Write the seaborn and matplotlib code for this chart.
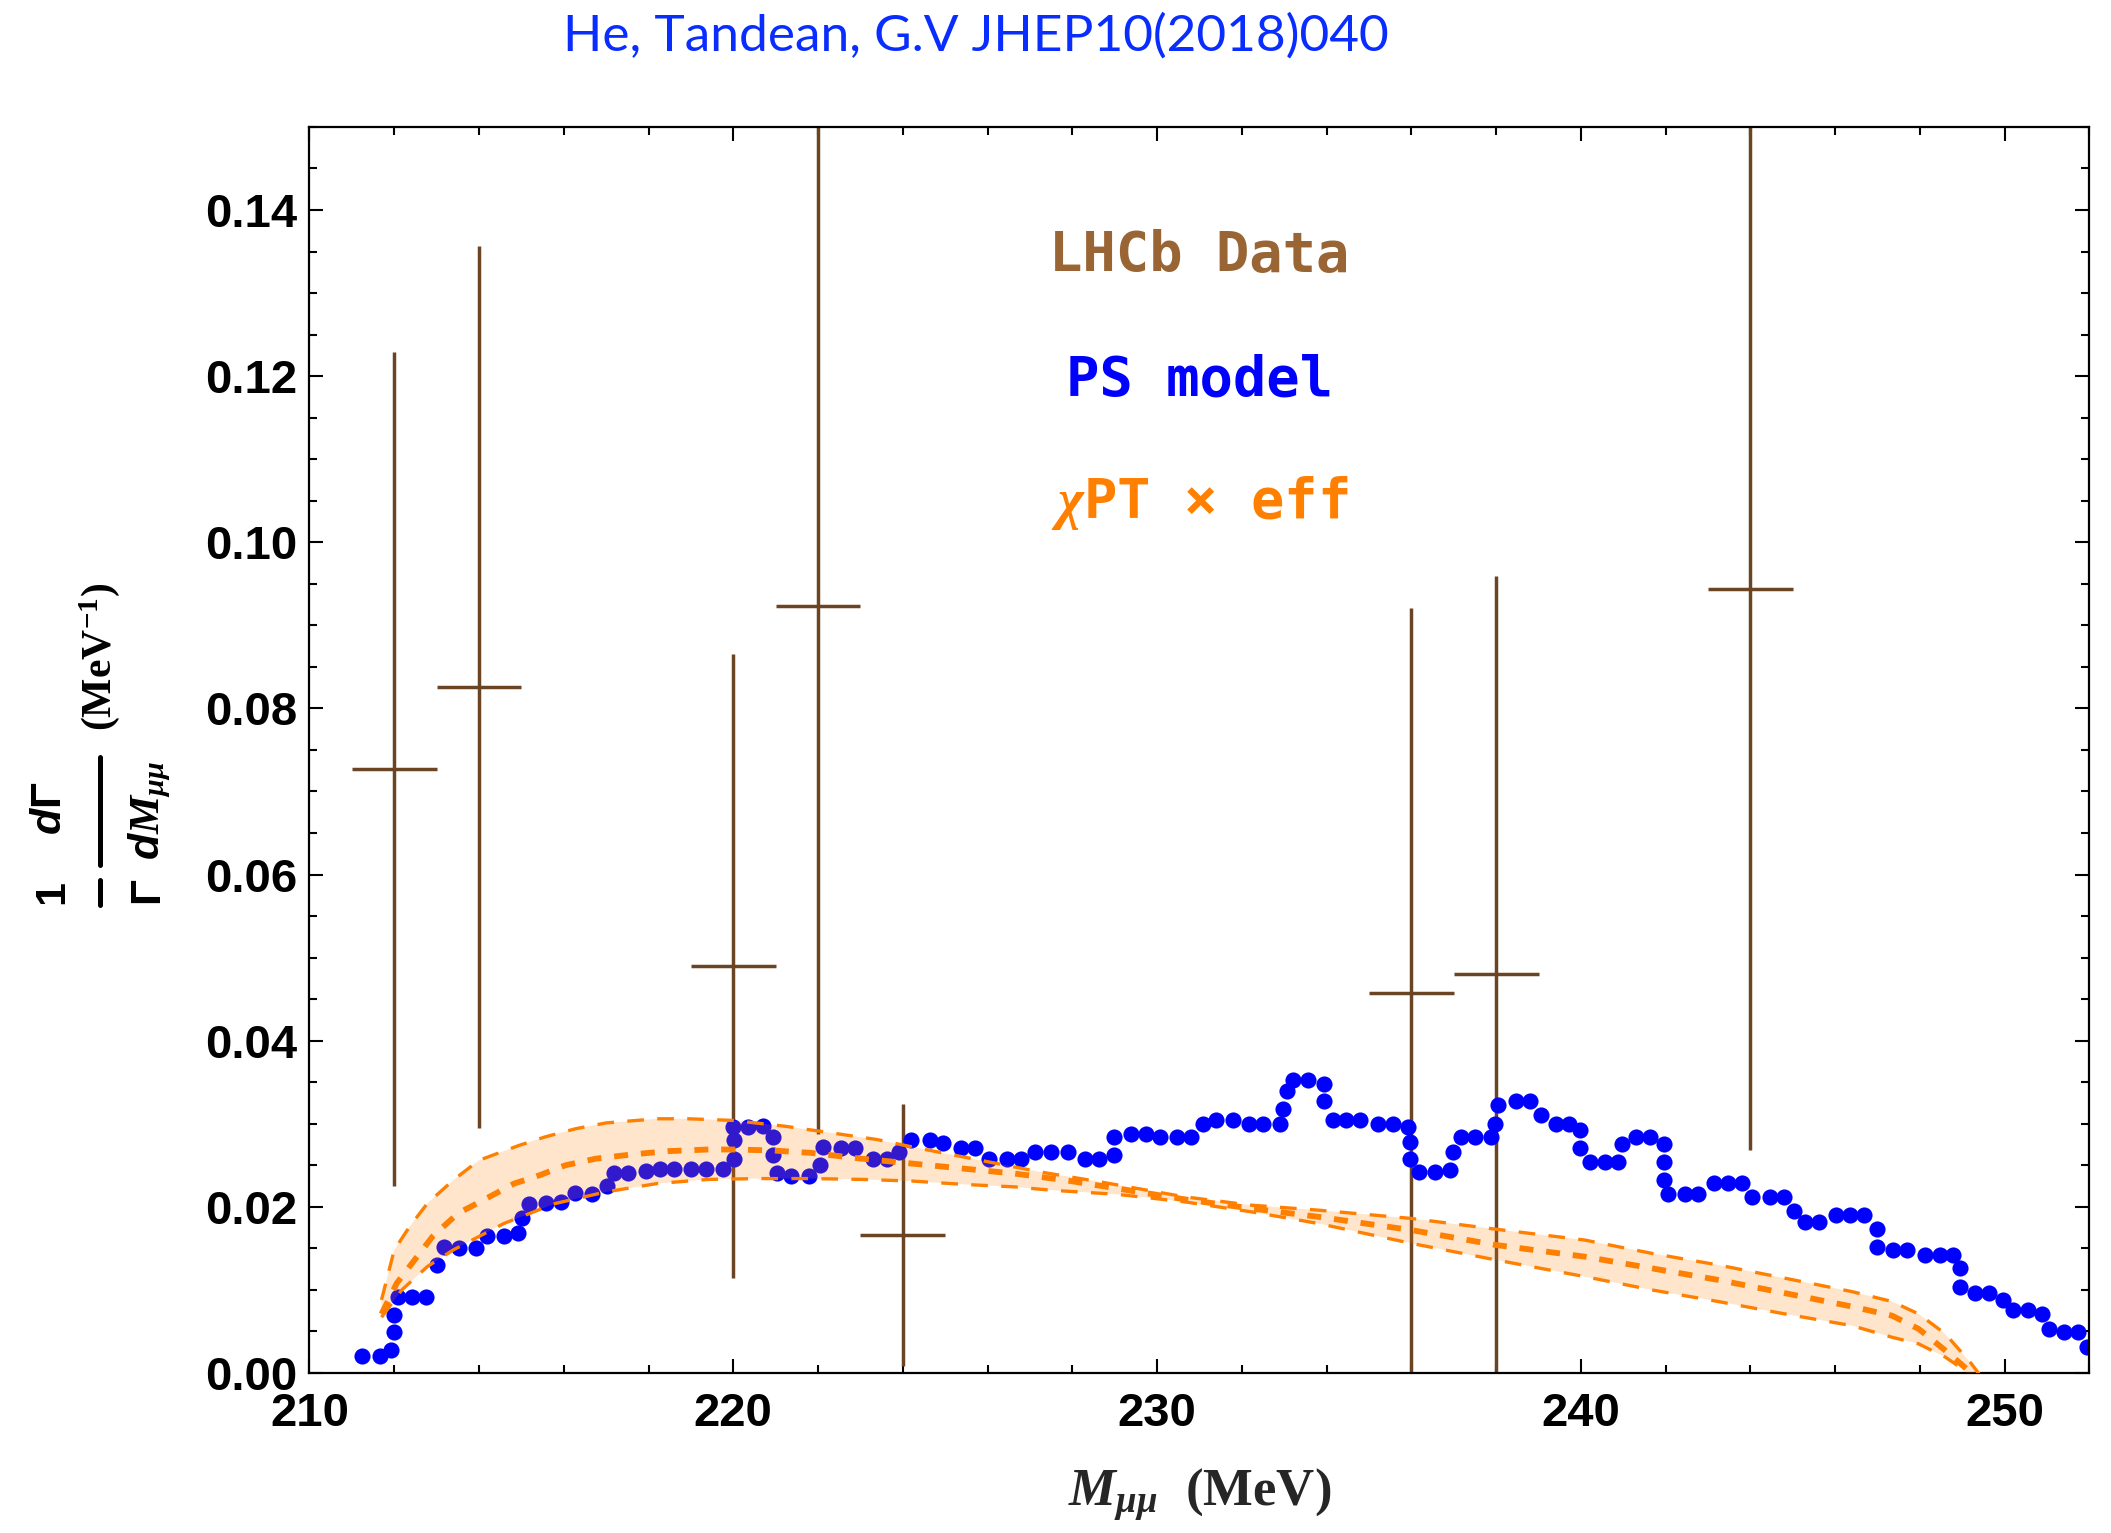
import numpy as np
import matplotlib
matplotlib.use("Agg")
import matplotlib.pyplot as plt
import seaborn as sns
from matplotlib.ticker import MultipleLocator
from matplotlib.lines import Line2D

# ---------------- data ----------------
# PS model (blue dots)
ps_mass = [211.24, 211.66, 211.92, 212.00, 212.00, 212.08, 212.42, 212.76, 213.00, 213.18,
           213.52, 213.93, 214.18, 214.59, 214.93, 215.01, 215.18, 215.59, 215.93, 216.27,
           216.67, 217.01, 217.18, 217.52, 217.93, 218.27, 218.60, 219.01, 219.35, 219.76,
           220.01, 220.01, 220.00, 220.35, 220.69, 220.94, 220.94, 221.02, 221.36, 221.78,
           222.04, 222.12, 222.54, 222.87, 223.29, 223.63, 223.92, 224.20, 224.63, 224.96,
           225.37, 225.71, 226.04, 226.46, 226.80, 227.13, 227.50, 227.89, 228.31, 228.63,
           228.99, 228.99, 229.39, 229.73, 230.06, 230.46, 230.80, 231.09, 231.40, 231.80,
           232.16, 232.49, 232.90, 232.98, 233.06, 233.21, 233.56, 233.95, 233.95, 234.14,
           234.46, 234.79, 235.21, 235.56, 235.92, 235.97, 235.97, 236.19, 236.55, 236.90,
           236.98, 237.18, 237.50, 237.89, 237.97, 238.05, 238.47, 238.80, 239.07, 239.42,
           239.73, 239.97, 239.97, 240.22, 240.57, 240.88, 240.96, 241.31, 241.64, 241.95,
           241.95, 241.95, 242.06, 242.46, 242.77, 243.13, 243.48, 243.80, 244.03, 244.46,
           244.79, 245.02, 245.29, 245.61, 246.03, 246.36, 246.68, 246.98, 246.98, 247.37,
           247.70, 248.13, 248.47, 248.79, 248.94, 248.94, 249.31, 249.62, 249.97, 250.20,
           250.54, 250.87, 251.04, 251.39, 251.72, 251.95]
ps_value = [0.0020, 0.0020, 0.0028, 0.0049, 0.0070, 0.0092, 0.0092, 0.0092, 0.0130, 0.0152,
            0.0151, 0.0151, 0.0165, 0.0165, 0.0169, 0.0186, 0.0203, 0.0205, 0.0206, 0.0217,
            0.0215, 0.0225, 0.0241, 0.0241, 0.0243, 0.0246, 0.0246, 0.0246, 0.0246, 0.0246,
            0.0258, 0.0280, 0.0296, 0.0296, 0.0297, 0.0284, 0.0262, 0.0241, 0.0237, 0.0237,
            0.0250, 0.0272, 0.0271, 0.0271, 0.0258, 0.0258, 0.0266, 0.0280, 0.0280, 0.0277,
            0.0271, 0.0271, 0.0258, 0.0258, 0.0258, 0.0266, 0.0266, 0.0266, 0.0258, 0.0258,
            0.0262, 0.0284, 0.0288, 0.0288, 0.0284, 0.0284, 0.0284, 0.0300, 0.0305, 0.0305,
            0.0300, 0.0300, 0.0300, 0.0318, 0.0340, 0.0353, 0.0353, 0.0348, 0.0327, 0.0305,
            0.0305, 0.0305, 0.0300, 0.0300, 0.0296, 0.0278, 0.0258, 0.0242, 0.0242, 0.0244,
            0.0266, 0.0284, 0.0284, 0.0284, 0.0300, 0.0322, 0.0327, 0.0327, 0.0310, 0.0300,
            0.0300, 0.0292, 0.0271, 0.0254, 0.0254, 0.0254, 0.0276, 0.0284, 0.0284, 0.0276,
            0.0254, 0.0232, 0.0216, 0.0216, 0.0216, 0.0229, 0.0229, 0.0229, 0.0212, 0.0212,
            0.0212, 0.0195, 0.0182, 0.0182, 0.0190, 0.0190, 0.0190, 0.0173, 0.0152, 0.0148,
            0.0148, 0.0142, 0.0142, 0.0142, 0.0126, 0.0104, 0.0096, 0.0096, 0.0088, 0.0076,
            0.0076, 0.0071, 0.0053, 0.0049, 0.0049, 0.0031]

# LHCb data points
lhcb_mass = [212, 214, 220, 222, 224, 236, 238, 244]
lhcb_value = [0.0727, 0.0826, 0.0490, 0.0923, 0.0166, 0.0457, 0.0480, 0.0944]
lhcb_err = [0.0502, 0.0531, 0.0376, 0.0635, 0.0158, 0.0464, 0.0480, 0.0676]
lhcb_halfwidth = [1, 1, 1, 1, 1, 1, 1, 1]

# chiPT x eff band: upper, central, lower curves
top_x = [211.7, 212.0, 212.36, 212.78, 213.39, 214.0, 214.95, 215.55, 216.28, 217.0, 218.2,
         218.93, 220.0, 221.22, 222.18, 223.39, 224.23, 225.43, 227.24, 228.66, 230.65, 232.22,
         233.8, 236.0, 238.0, 240.09, 241.67, 243.24, 244.82, 246.39, 247.34, 247.97, 248.6,
         249.2, 249.6]
top_y = [0.0088, 0.0148, 0.0176, 0.0204, 0.0232, 0.0256, 0.0274, 0.0284, 0.0294, 0.0301, 0.0306,
         0.0306, 0.0304, 0.0297, 0.0290, 0.0281, 0.0272, 0.0260, 0.0242, 0.0230, 0.0212, 0.0202,
         0.0196, 0.0186, 0.0173, 0.0160, 0.0144, 0.0130, 0.0114, 0.0098, 0.0086, 0.0071, 0.0047,
         0.0012, -0.0015]
mid_x = [211.7, 212.06, 212.42, 212.9, 213.5, 214.1, 214.83, 215.43, 216.04, 216.76, 217.6,
         218.45, 219.41, 220.0, 220.86, 221.82, 223.02, 224.23, 225.43, 226.64, 227.84, 229.07,
         230.65, 232.22, 233.8, 236.0, 238.0, 240.09, 241.67, 243.24, 244.82, 246.39, 247.34,
         247.97, 248.6, 249.1, 249.5]
mid_y = [0.0071, 0.0108, 0.0132, 0.0164, 0.0192, 0.0208, 0.0228, 0.0238, 0.0250, 0.0258, 0.0263,
         0.0267, 0.0269, 0.0269, 0.0268, 0.0265, 0.0258, 0.0252, 0.0246, 0.0240, 0.0232, 0.0222,
         0.0209, 0.0198, 0.0188, 0.0172, 0.0154, 0.0140, 0.0126, 0.0112, 0.0096, 0.0080, 0.0069,
         0.0053, 0.0027, 0.0005, -0.0015]
low_x = [211.7, 212.18, 212.78, 213.39, 214.59, 215.8, 217.0, 218.2, 219.41, 220.61, 221.82,
         223.02, 224.23, 225.43, 226.64, 227.5, 229.07, 230.65, 232.22, 233.8, 236.0, 238.0,
         240.09, 241.67, 243.24, 244.82, 246.39, 247.34, 247.97, 248.6, 249.0, 249.4]
low_y = [0.0067, 0.0100, 0.0128, 0.0148, 0.0180, 0.0204, 0.0218, 0.0228, 0.0233, 0.0234, 0.0234,
         0.0233, 0.0231, 0.0227, 0.0224, 0.0220, 0.0215, 0.0206, 0.0194, 0.0180, 0.0156, 0.0136,
         0.0116, 0.0100, 0.0086, 0.0071, 0.0057, 0.0043, 0.0035, 0.0019, 0.0005, -0.0015]

x_ticks = [210, 220, 230, 240, 250]
y_ticks = [0.00, 0.02, 0.04, 0.06, 0.08, 0.10, 0.12, 0.14]
y_ticklabels = ["0.00", "0.02", "0.04", "0.06", "0.08", "0.10", "0.12", "0.14"]

legend_labels = ["LHCb Data", "PS model", r"$\chi$PT × eff"]
title_text = "He, Tandean, G.V JHEP10(2018)040"

# ---------------- style ----------------
sns.set_theme(style="ticks")
plt.rcParams["font.family"] = ["Liberation Sans", "DejaVu Sans"]
plt.rcParams["mathtext.fontset"] = "custom"
plt.rcParams["mathtext.rm"] = "Liberation Serif:bold"
plt.rcParams["mathtext.bf"] = "Liberation Sans:bold"
plt.rcParams["mathtext.it"] = "Liberation Serif:italic:bold"
plt.rcParams["mathtext.sf"] = "Liberation Sans:italic:bold"

BLUE = "#0000ff"
ORANGE = "#ff8000"
BROWN = "#6b4423"
BROWN_TXT = "#9a6535"

W, H = 2111, 1533
fig = plt.figure(figsize=(W / 100, H / 100), dpi=100)
ax = fig.add_axes([0.1466, 0.1044, 0.8432, 0.8128])

# error bars (LHCb)
ax.errorbar(lhcb_mass, lhcb_value, yerr=lhcb_err, xerr=lhcb_halfwidth, fmt="none",
            ecolor=BROWN, elinewidth=2.5, capsize=0, zorder=1)

# PS model dots
sns.scatterplot(x=ps_mass, y=ps_value, color=BLUE, s=135, linewidth=0, ax=ax, zorder=2)

# band
band_x = list(top_x) + list(low_x[::-1])
band_y = list(top_y) + list(low_y[::-1])
ax.fill(band_x, band_y, color=ORANGE, alpha=0.2, linewidth=0, zorder=3)

sns.lineplot(x=top_x, y=top_y, sort=False, estimator=None, color=ORANGE, linewidth=2.4,
             linestyle=(0, (5, 4)), ax=ax, zorder=4)
sns.lineplot(x=low_x, y=low_y, sort=False, estimator=None, color=ORANGE, linewidth=2.4,
             linestyle=(0, (5, 4)), ax=ax, zorder=4)
sns.lineplot(x=mid_x, y=mid_y, sort=False, estimator=None, color=ORANGE, linewidth=4.2,
             linestyle=(0, (2.4, 2.2)), ax=ax, zorder=4)

# axes
ax.set_xlim(210, 252)
ax.set_ylim(0, 0.15)
ax.set_xticks(x_ticks)
ax.set_yticks(y_ticks)
ax.set_yticklabels(y_ticklabels)
ax.xaxis.set_minor_locator(MultipleLocator(2))
ax.yaxis.set_minor_locator(MultipleLocator(0.005))
ax.tick_params(which="both", direction="in", top=True, right=True, colors="black",
               width=1.5, labelsize=34)
ax.tick_params(which="major", length=10.3)
ax.tick_params(which="minor", length=6.0)
ax.tick_params(axis="x", which="major", pad=14)
ax.tick_params(axis="y", which="major", pad=9)
for lab in ax.get_xticklabels() + ax.get_yticklabels():
    lab.set_fontweight("bold")
for sp in ax.spines.values():
    sp.set_linewidth(1.6)
    sp.set_color("black")
    sp.set_visible(True)

ax.set_xlabel(r"$M_{\mu\mu}\ \ \mathrm{(MeV)}$", fontsize=38, labelpad=22)
ax.set_ylabel("")


# ---- y label built piece by piece (rotated) ----
def fx(px):
    return px / W


def fy(py):
    return 1 - py / H


ylab_kw = dict(rotation=90, ha="center", va="center", color="black")
fig.text(fx(52), fy(892), "1", fontsize=31, fontweight="bold", **ylab_kw)
fig.text(fx(147), fy(890), "Γ", fontsize=31, fontweight="bold", **ylab_kw)
fig.text(fx(50), fy(808), r"$\mathsf{d}\mathbf{\Gamma}$", fontsize=31, **ylab_kw)
fig.text(fx(150), fy(810), r"$\mathsf{d}M_{\mu\mu}$", fontsize=31, **ylab_kw)
fig.text(fx(100), fy(657), r"$\mathrm{(MeV^{-1})}$", fontsize=30, **ylab_kw)
fig.add_artist(Line2D([fx(100), fx(100)], [fy(880), fy(905)], color="black", lw=3.6,
                      transform=fig.transFigure))
fig.add_artist(Line2D([fx(100), fx(100)], [fy(757), fy(865)], color="black", lw=3.6,
                      transform=fig.transFigure))

# legend-like texts
leg_colors = [BROWN_TXT, BLUE, ORANGE]
leg_y = [0.1327, 0.1177, 0.1029]
for lab, col, yy in zip(legend_labels, leg_colors, leg_y):
    ax.text(231.0, yy, lab, ha="center", va="baseline", color=col, fontsize=40,
            fontweight="bold", family=["DejaVu Sans Mono", "DejaVu Sans"], zorder=6)

fig.text(0.4623, 0.967, title_text, ha="center", va="baseline", color="#0a2dff",
         fontsize=37, family=["Lato", "DejaVu Sans"])

fig.savefig("out.png", dpi=100)
